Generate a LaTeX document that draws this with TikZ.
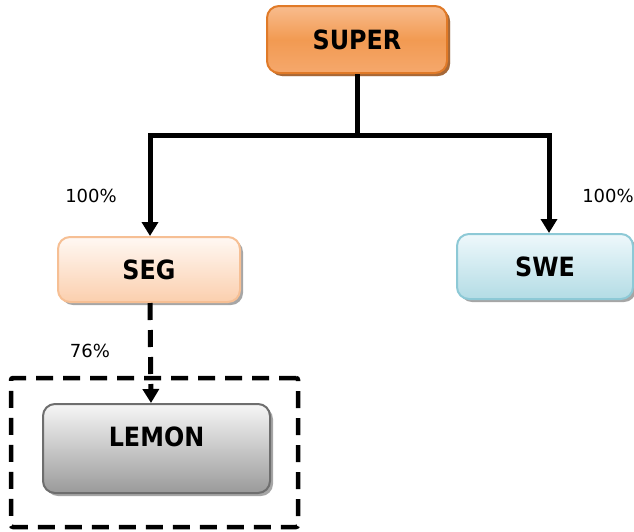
\documentclass[tikz,border=0pt]{standalone}
\usepackage{fontspec}
\setmainfont{DejaVu Sans}
\newfontfamily\boxfont{DejaVu Sans Condensed Bold}
\usepackage{tikz}
\usetikzlibrary{shadows,arrows.meta}

\definecolor{superTop}{HTML}{F8BC8E}
\definecolor{superMid}{HTML}{F29A52}
\definecolor{superBot}{HTML}{F5A86C}
\definecolor{superLine}{HTML}{E07A28}
\definecolor{superShade}{HTML}{A85A1C}
\definecolor{segTop}{HTML}{FFF8F3}
\definecolor{segBot}{HTML}{FBCFAE}
\definecolor{segLine}{HTML}{F6BF94}
\definecolor{sweTop}{HTML}{EEF8FB}
\definecolor{sweBot}{HTML}{B3DCE5}
\definecolor{sweLine}{HTML}{8DC9D6}
\definecolor{lemonTop}{HTML}{F6F6F6}
\definecolor{lemonBot}{HTML}{9A9A9A}
\definecolor{lemonLine}{HTML}{6E6E6E}

\begin{document}
\begin{tikzpicture}[x=1pt,y=-1pt,
  entity/.style={rounded corners=12pt,line width=2pt,
    font=\boxfont\fontsize{26.5}{30}\selectfont,
    drop shadow={shadow xshift=3pt,shadow yshift=-3pt,opacity=0.35,fill=black}},
  pct/.style={font=\fontsize{18}{21}\selectfont},
  link/.style={line width=5pt,-{Triangle[length=14pt,width=16pt]}}]
\useasboundingbox (0,0) rectangle (634,531);

\node (super)[entity,draw=superLine,top color=superTop,bottom color=superBot,middle color=superMid,
  drop shadow={shadow xshift=3pt,shadow yshift=-3pt,opacity=0.8,fill=superShade},
  minimum width=180pt,minimum height=67pt] at (357,39.5) {SUPER};
\node (seg)[entity,draw=segLine,top color=segTop,bottom color=segBot,
  minimum width=182pt,minimum height=65pt] at (149,269.5) {SEG};
\node (swe)[entity,draw=sweLine,top color=sweTop,bottom color=sweBot,
  minimum width=176pt,minimum height=65pt] at (545,266.5) {SWE};
\node (lemon)[entity,draw=lemonLine,top color=lemonTop,bottom color=lemonBot,
  minimum width=227pt,minimum height=89pt,text height=19pt,text depth=24pt] at (156.5,448.5) {LEMON};

\node (group)[draw,line width=4.5pt,rounded corners=2pt,dash pattern=on 17pt off 10pt,
  minimum width=287pt,minimum height=149pt] at (154.5,452.5) {};

\coordinate (fork) at (357,135);
\draw[line width=5pt] (super.south) -- (fork);
\draw[link] (fork) -| ([xshift=1pt]seg.north);
\draw[link] (fork) -| ([xshift=4pt]swe.north);
\draw[link,dash pattern=on 17pt off 10pt] ([xshift=1pt]seg.south) -- ([xshift=-5.5pt]lemon.north);

\node (pctseg)[pct] at (91,196) {100\%};
\node (pctswe)[pct] at (608,196) {100\%};
\node (pctlemon)[pct] at (90,351) {76\%};
\end{tikzpicture}
\end{document}
